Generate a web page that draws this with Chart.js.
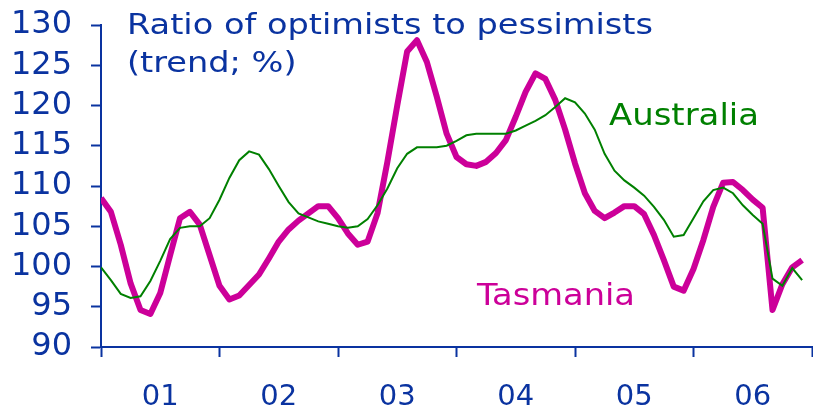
<!DOCTYPE html>
<html>
<head>
<meta charset="utf-8">
<script src="https://cdn.jsdelivr.net/npm/chart.js@4/dist/chart.umd.min.js"></script>
<style>
  body { margin: 0; background: #fff; }
</style>
</head>
<body>
<canvas id="myChart" width="813" height="410"></canvas>
<script>
// monthly trend, Jan 2001 - Dec 2006
var years = ['01', '02', '03', '04', '05', '06'];
var australia = [
  99.9, 98.3, 96.6, 96.1, 96.3, 98.2, 100.7, 103.4, 104.8, 105.0, 105.0, 106.0,
  108.3, 111.0, 113.2, 114.3, 113.9, 112.1, 110.0, 108.0, 106.6, 106.1, 105.6, 105.3,
  105.0, 104.8, 105.0, 105.9, 107.6, 109.7, 112.2, 114.0, 114.8, 114.8, 114.8, 115.0,
  115.6, 116.3, 116.5, 116.5, 116.5, 116.5, 116.9, 117.5, 118.1, 118.8, 119.8, 120.9,
  120.4, 119.0, 117.0, 114.0, 111.9, 110.7, 109.8, 108.8, 107.4, 105.8, 103.7, 103.9,
  106.0, 108.1, 109.5, 109.8, 109.1, 107.6, 106.4, 105.3, 98.5, 97.6, 99.8, 98.3
];
var tasmania = [
  108.5, 106.8, 102.7, 97.9, 94.6, 94.1, 96.7, 101.4, 106.0, 106.8, 105.2, 101.4,
  97.6, 95.9, 96.4, 97.7, 99.0, 101.0, 103.1, 104.6, 105.7, 106.6, 107.5, 107.5,
  106.0, 104.1, 102.7, 103.1, 106.6, 113.0, 120.0, 126.7, 128.1, 125.4, 121.1, 116.5,
  113.6, 112.7, 112.5, 113.0, 114.1, 115.7, 118.6, 121.7, 124.0, 123.3, 120.7, 117.0,
  112.8, 109.1, 106.9, 106.0, 106.7, 107.5, 107.5, 106.5, 103.9, 100.8, 97.5, 97.0,
  99.7, 103.3, 107.4, 110.4, 110.5, 109.5, 108.3, 107.3, 94.6, 97.8, 99.9, 100.8
];
var titleLines = ['Ratio of optimists to pessimists', '(trend; %)'];

var BLUE = '#0a33a0';
var GREEN = '#008000';
var MAGENTA = '#cc0099';

function toPoints(arr) {
  return arr.map(function(v, i) { return { x: i, y: v }; });
}

// the original lettering is wide: stretch sideways so that `fitText` spans fitWidth px
function wideText(ctx, text, x, y, size, fitText, fitWidth, color) {
  ctx.save();
  ctx.font = size + 'px "DejaVu Sans"';
  ctx.fillStyle = color;
  ctx.textBaseline = 'alphabetic';
  ctx.textAlign = 'left';
  var sx = fitWidth / ctx.measureText(fitText).width;
  ctx.translate(x, y);
  ctx.scale(sx, 1);
  ctx.fillText(text, 0, 0);
  ctx.restore();
}

var labelsPlugin = {
  id: 'labels',
  afterDraw: function(chart) {
    var ctx = chart.ctx;
    wideText(ctx, titleLines[0], 127, 34, 27.5, titleLines[0], 526, BLUE);
    wideText(ctx, titleLines[1], 127, 72, 27.5, titleLines[0], 526, BLUE);
    wideText(ctx, 'Australia', 609, 125, 30, 'Australia', 150, GREEN);
    wideText(ctx, 'Tasmania', 477, 305, 30, 'Tasmania', 158, MAGENTA);
  }
};

// fixed axis boxes, no automatic label overhang padding
function fixBox(size, horizontal) {
  return function(s) {
    if (horizontal) s.height = size; else s.width = size;
    s.paddingLeft = s.paddingRight = s.paddingTop = s.paddingBottom = 0;
  };
}

var ctx = document.getElementById('myChart').getContext('2d');
var myChart = new Chart(ctx, {
  type: 'line',
  data: {
    datasets: [{
      label: 'Australia',
      data: toPoints(australia),
      borderColor: GREEN,
      borderWidth: 2,
      pointRadius: 0,
      tension: 0
    },
    {
      label: 'Tasmania',
      data: toPoints(tasmania),
      borderColor: MAGENTA,
      borderWidth: 6,
      borderJoinStyle: 'round',
      pointRadius: 0,
      tension: 0
    }]
  },
  options: {
    responsive: false,
    animation: false,
    layout: { padding: { left: 13, right: 1, top: 25, bottom: 0 } },
    plugins: {
      legend: { display: false },
      tooltip: { enabled: false }
    },
    scales: {
      x: {
        type: 'linear',
        min: 0,
        max: 72,
        afterFit: fixBox(63, true),
        ticks: {
          stepSize: 6,
          autoSkip: false,
          maxRotation: 0,
          padding: 23,
          color: BLUE,
          font: { family: 'DejaVu Sans', size: 29 },
          callback: function(v) {
            return v % 12 === 6 ? years[(v - 6) / 12] : '';
          }
        },
        grid: {
          drawOnChartArea: false,
          drawTicks: true,
          tickLength: 10,
          tickWidth: 2,
          tickColor: function(c) {
            return (c.tick && c.tick.value % 12 === 0) ? BLUE : 'rgba(0,0,0,0)';
          }
        },
        border: { color: BLUE, width: 2 }
      },
      y: {
        min: 90,
        max: 130,
        afterFit: fixBox(88, false),
        ticks: {
          stepSize: 5,
          autoSkip: false,
          padding: 19,
          color: BLUE,
          font: { family: 'DejaVu Sans', size: 32 }
        },
        grid: {
          drawOnChartArea: false,
          drawTicks: true,
          tickLength: 10,
          tickWidth: 2,
          tickColor: BLUE
        },
        border: { color: BLUE, width: 2 }
      }
    }
  },
  plugins: [labelsPlugin]
});
</script>
</body>
</html>
